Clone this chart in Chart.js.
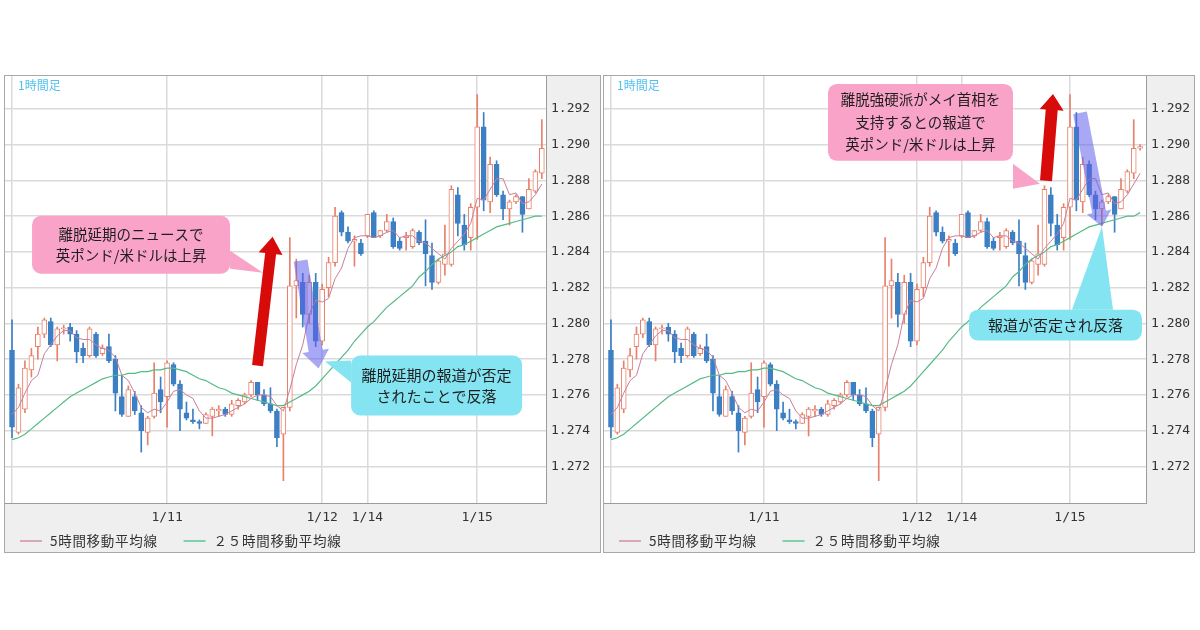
<!DOCTYPE html>
<html>
<head>
<meta charset="utf-8">
<script src="https://cdn.jsdelivr.net/npm/chart.js@4.4.1/dist/chart.umd.min.js"></script>
<style>
  html, body { margin: 0; padding: 0; background: #fff; width: 1200px; height: 630px; overflow: hidden; }
  canvas { position: absolute; }
  #left  { left: 4px;   top: 75px; width: 597px; height: 478px; }
  #right { left: 603px; top: 75px; width: 592px; height: 478px; }
</style>
</head>
<body>
<canvas id="left" width="597" height="478"></canvas>
<canvas id="right" width="592" height="478"></canvas>
<script>
// GBP/USD 1時間足, 1/10 0:00 - 1/15 11:00 (left chart ends one bar earlier)
const opens = [
  1.2785, 1.2739, 1.2752, 1.2774, 1.2787, 1.2794, 1.2801, 1.2788, 1.2797, 1.2798,
  1.2794, 1.2786, 1.2782, 1.2794, 1.2783, 1.2787, 1.2780, 1.2759, 1.2748, 1.2759,
  1.2750, 1.2739, 1.2748, 1.2763, 1.2759, 1.2777, 1.2766, 1.2750, 1.2746, 1.2745,
  1.2744, 1.2748, 1.2751, 1.2752, 1.2749, 1.2754, 1.2756, 1.2760, 1.2767, 1.2760,
  1.2755, 1.2751, 1.2738, 1.2753, 1.2821, 1.2823, 1.2805, 1.2823, 1.2790, 1.2820,
  1.2834, 1.2862, 1.2851, 1.2846, 1.2845, 1.2849, 1.2862, 1.2849, 1.2852, 1.2857,
  1.2846, 1.2848, 1.2843, 1.2851, 1.2846, 1.2838, 1.2823, 1.2833, 1.2833, 1.2872,
  1.2855, 1.2848, 1.2865, 1.2910, 1.2868, 1.2889, 1.2872, 1.2864, 1.2868, 1.2871,
  1.2864, 1.2874, 1.2884, 1.2898
];
const highs = [
  1.2802, 1.2766, 1.2779, 1.2786, 1.2798, 1.2803, 1.2803, 1.2798, 1.2799, 1.2800,
  1.2796, 1.2789, 1.2798, 1.2795, 1.2788, 1.2794, 1.2782, 1.2771, 1.2765, 1.2762,
  1.2754, 1.2748, 1.2778, 1.2770, 1.2779, 1.2778, 1.2768, 1.2756, 1.2752, 1.2746,
  1.2750, 1.2753, 1.2754, 1.2753, 1.2757, 1.2758, 1.2761, 1.2768, 1.2767, 1.2763,
  1.2764, 1.2752, 1.2753, 1.2848, 1.2836, 1.2828, 1.2827, 1.2828, 1.2822, 1.2837,
  1.2865, 1.2863, 1.2854, 1.2849, 1.2847, 1.2861, 1.2863, 1.2852, 1.2861, 1.2859,
  1.2848, 1.2851, 1.2853, 1.2852, 1.2858, 1.2845, 1.2836, 1.2855, 1.2877, 1.2876,
  1.2861, 1.2867, 1.2928, 1.2918, 1.2893, 1.2891, 1.2874, 1.2869, 1.2872, 1.2871,
  1.2881, 1.2886, 1.2914, 1.2900
];
const lows = [
  1.2736, 1.2738, 1.2750, 1.2770, 1.2780, 1.2792, 1.2787, 1.2779, 1.2794, 1.2790,
  1.2778, 1.2778, 1.2781, 1.2781, 1.2782, 1.2778, 1.2751, 1.2748, 1.2748, 1.2749,
  1.2728, 1.2732, 1.2747, 1.2750, 1.2742, 1.2765, 1.2740, 1.2746, 1.2744, 1.2741,
  1.2744, 1.2737, 1.2748, 1.2748, 1.2748, 1.2752, 1.2755, 1.2759, 1.2757, 1.2754,
  1.2750, 1.2731, 1.2712, 1.2751, 1.2803, 1.2798, 1.2800, 1.2787, 1.2788, 1.2815,
  1.2832, 1.2849, 1.2845, 1.2832, 1.2838, 1.2848, 1.2848, 1.2848, 1.2851, 1.2842,
  1.2841, 1.2841, 1.2842, 1.2844, 1.2821, 1.2819, 1.2822, 1.2827, 1.2832, 1.2849,
  1.2841, 1.2841, 1.2847, 1.2863, 1.2862, 1.2871, 1.2858, 1.2855, 1.2867, 1.2851,
  1.2864, 1.2873, 1.2881, 1.2897
];
const closes = [
  1.2742, 1.2764, 1.2775, 1.2782, 1.2794, 1.2802, 1.2788, 1.2797, 1.2797, 1.2794,
  1.2784, 1.2782, 1.2797, 1.2782, 1.2786, 1.2779, 1.2761, 1.2749, 1.2763, 1.2751,
  1.2740, 1.2747, 1.2761, 1.2756, 1.2778, 1.2766, 1.2752, 1.2747, 1.2745, 1.2744,
  1.2749, 1.2752, 1.2752, 1.2749, 1.2755, 1.2757, 1.2760, 1.2767, 1.2760, 1.2755,
  1.2751, 1.2736, 1.2753, 1.2821, 1.2824, 1.2805, 1.2823, 1.2790, 1.2819, 1.2834,
  1.2860, 1.2851, 1.2846, 1.2847, 1.2839, 1.2861, 1.2848, 1.2852, 1.2857, 1.2843,
  1.2842, 1.2849, 1.2852, 1.2845, 1.2839, 1.2823, 1.2835, 1.2839, 1.2875, 1.2856,
  1.2844, 1.2865, 1.2910, 1.2869, 1.2889, 1.2872, 1.2864, 1.2868, 1.2871, 1.2861,
  1.2875, 1.2885, 1.2898, 1.2899
];
const ma5 = [
  1.2749, 1.2753, 1.2761, 1.2768, 1.2771, 1.2783, 1.2788, 1.2793, 1.2796, 1.2796,
  1.2792, 1.2791, 1.2791, 1.2788, 1.2786, 1.2785, 1.2781, 1.2771, 1.2768, 1.2761,
  1.2753, 1.2750, 1.2752, 1.2751, 1.2756, 1.2762, 1.2763, 1.2760, 1.2758, 1.2751,
  1.2747, 1.2747, 1.2748, 1.2749, 1.2751, 1.2753, 1.2755, 1.2758, 1.2760, 1.2760,
  1.2759, 1.2754, 1.2751, 1.2763, 1.2777, 1.2788, 1.2805, 1.2813, 1.2812, 1.2814,
  1.2825, 1.2831, 1.2842, 1.2848, 1.2849, 1.2849, 1.2848, 1.2849, 1.2851, 1.2852,
  1.2848, 1.2849, 1.2849, 1.2846, 1.2845, 1.2842, 1.2839, 1.2836, 1.2842, 1.2846,
  1.2850, 1.2856, 1.2870, 1.2869, 1.2875, 1.2881, 1.2881, 1.2872, 1.2873, 1.2867,
  1.2868, 1.2872, 1.2878, 1.2884
];
const ma25 = [
  1.2735, 1.2736, 1.2738, 1.2741, 1.2744, 1.2747, 1.2750, 1.2753, 1.2756, 1.2759,
  1.2761, 1.2763, 1.2765, 1.2767, 1.2769, 1.2770, 1.2771, 1.2771, 1.2772, 1.2772,
  1.2773, 1.2773, 1.2774, 1.2774, 1.2775, 1.2775, 1.2774, 1.2773, 1.2771, 1.2769,
  1.2768, 1.2766, 1.2764, 1.2763, 1.2761, 1.2760, 1.2759, 1.2758, 1.2757, 1.2756,
  1.2755, 1.2754, 1.2754, 1.2756, 1.2758, 1.2760, 1.2762, 1.2765, 1.2769, 1.2773,
  1.2777, 1.2781, 1.2785, 1.2790, 1.2794, 1.2798, 1.2801, 1.2805, 1.2809, 1.2812,
  1.2815, 1.2818, 1.2821, 1.2826, 1.2829, 1.2833, 1.2836, 1.2838, 1.2840, 1.2843,
  1.2844, 1.2846, 1.2848, 1.2850, 1.2852, 1.2854, 1.2855, 1.2856, 1.2857, 1.2858,
  1.2859, 1.2860, 1.2860, 1.2862
];
const tickIndex = [0, 24, 48, 55, 72];
const tickLabels = ['', '1/11', '1/12', '1/14', '1/15'];
const yTicks = [1.272, 1.274, 1.276, 1.278, 1.280, 1.282, 1.284, 1.286, 1.288, 1.290, 1.292];

const UP = '#e8806a', DOWN = '#3b7fc4';
const JP = '"Noto Sans CJK JP", sans-serif';
const MONO = '"DejaVu Sans Mono", monospace';

// callouts and arrows, placed in (bar index, price) coordinates
const notesLeft = {
  boxes: [
    { x: [3.1, 33.75], y: [1.28602, 1.28278], fill: '#f9a3c9', size: 14.5, lh: 21,
      tail: [[33.75, 1.28407], [33.75, 1.28306], [38.85, 1.28284]],
      lines: ['離脱延期のニュースで', '英ポンド/米ドルは上昇'] },
    { x: [52.48, 78.95], y: [1.27820, 1.27485], fill: '#84e4f1', size: 15, lh: 21,
      tail: [[52.48, 1.27792], [52.48, 1.27669], [48.45, 1.27787]],
      lines: ['離脱延期の報道が否定', 'されたことで反落'] }
  ],
  arrows: [
    { from: [38.0, 1.27764], to: [40.33, 1.28485], w: 11, hw: 24, hl: 17, color: '#d80b0b' },
    { from: [44.66, 1.28351], to: [47.45, 1.27747], w: 14, hw: 27, hl: 18, color: 'rgba(96,96,235,0.55)' }
  ]
};
const notesRight = {
  boxes: [
    { x: [34.04, 63.06], y: [1.29340, 1.28910], fill: '#f9a3c9', size: 14.5, lh: 22.5,
      tail: [[63.06, 1.28894], [63.06, 1.28754], [67.29, 1.28782]],
      lines: ['離脱強硬派がメイ首相を', '支持するとの報道で', '英ポンド/米ドルは上昇'] },
    { x: [56.16, 83.29], y: [1.28077, 1.27904], fill: '#84e4f1', size: 15, lh: 21,
      tail: [[72.31, 1.28077], [78.75, 1.28077], [77.02, 1.28541]],
      lines: ['報道が否定され反落'] }
  ],
  arrows: [
    { from: [68.24, 1.28798], to: [69.33, 1.29284], w: 12, hw: 24, hl: 16, color: '#d80b0b' },
    { from: [73.57, 1.29178], to: [77.02, 1.28541], w: 14, hw: 25, hl: 15, color: 'rgba(96,96,235,0.55)' }
  ]
};

function drawArrow(ctx, x0, y0, x1, y1, a) {
  const ang = Math.atan2(y1 - y0, x1 - x0), len = Math.hypot(x1 - x0, y1 - y0);
  ctx.save();
  ctx.translate(x0, y0);
  ctx.rotate(ang);
  ctx.beginPath();
  ctx.moveTo(0, -a.w / 2);
  ctx.lineTo(len - a.hl, -a.w / 2);
  ctx.lineTo(len - a.hl, -a.hw / 2);
  ctx.lineTo(len, 0);
  ctx.lineTo(len - a.hl, a.hw / 2);
  ctx.lineTo(len - a.hl, a.w / 2);
  ctx.lineTo(0, a.w / 2);
  ctx.closePath();
  ctx.fillStyle = a.color;
  ctx.fill();
  ctx.restore();
}

function panelPlugin(notes) {
  return {
    id: 'panel',
    beforeDraw(chart) {
      const { ctx, chartArea: a } = chart;
      ctx.save();
      ctx.fillStyle = '#efefef';
      ctx.fillRect(0, 0, chart.width, chart.height);
      ctx.fillStyle = '#fff';
      ctx.fillRect(a.left, a.top, a.right - a.left, a.bottom - a.top);
      ctx.restore();
    },
    afterDraw(chart) {
      const { ctx, chartArea: a } = chart;
      const xs = chart.scales.x, ys = chart.scales.y;
      const P = (p) => [xs.getPixelForValue(p[0]), ys.getPixelForValue(p[1])];
      ctx.save();
      // frames
      ctx.strokeStyle = '#9c9c9c';
      ctx.lineWidth = 1;
      ctx.strokeRect(Math.round(a.left) + 0.5, Math.round(a.top) + 0.5,
        Math.round(a.right - a.left) - 1, Math.round(a.bottom - a.top));
      ctx.strokeStyle = '#a8a8a8';
      ctx.strokeRect(0.5, 0.5, chart.width - 1, chart.height - 1);
      // timeframe label
      ctx.fillStyle = '#52c2f0';
      ctx.font = '12px ' + JP;
      ctx.textBaseline = 'top';
      ctx.fillText('1時間足', a.left + 14, a.top + 4);
      // legend
      let lx = 16;
      const ly = a.bottom + 38;
      ctx.font = '13.5px ' + JP;
      ctx.letterSpacing = '0.7px';
      ctx.textBaseline = 'middle';
      chart.data.datasets.filter(d => d.legendColor).forEach(d => {
        ctx.strokeStyle = d.legendColor;
        ctx.lineWidth = 2;
        ctx.beginPath();
        ctx.moveTo(lx, ly);
        ctx.lineTo(lx + 22, ly);
        ctx.stroke();
        ctx.fillStyle = '#333';
        ctx.fillText(d.label, lx + 30, ly);
        lx += 30 + ctx.measureText(d.label).width + 26;
      });
      ctx.letterSpacing = '0px';
      // callouts
      notes.boxes.forEach(b => {
        const [x1, y1] = P([b.x[0], b.y[0]]);
        const [x2, y2] = P([b.x[1], b.y[1]]);
        ctx.fillStyle = b.fill;
        ctx.beginPath();
        ctx.roundRect(x1, y1, x2 - x1, y2 - y1, 9);
        ctx.fill();
        ctx.beginPath();
        b.tail.map(P).forEach((p, k) => k ? ctx.lineTo(p[0], p[1]) : ctx.moveTo(p[0], p[1]));
        ctx.closePath();
        ctx.fill();
        ctx.fillStyle = '#1e1e1e';
        ctx.font = b.size + 'px ' + JP;
        ctx.textAlign = 'center';
        ctx.textBaseline = 'middle';
        const cy = (y1 + y2) / 2 - (b.lines.length - 1) * b.lh / 2;
        b.lines.forEach((t, k) => ctx.fillText(t, (x1 + x2) / 2, cy + k * b.lh));
      });
      notes.arrows.forEach(ar => {
        const [x0, y0] = P(ar.from);
        const [x1, y1] = P(ar.to);
        drawArrow(ctx, x0, y0, x1, y1, ar);
      });
      ctx.restore();
    }
  };
}

function makeChart(id, n, xMin, xMax, axisW, notes) {
  const idx = closes.slice(0, n).map((c, i) => i);
  const up = i => closes[i] >= opens[i];
  const tickFont = { family: MONO, size: 13 };
  return new Chart(document.getElementById(id), {
    type: 'bar',
    data: {
      datasets: [
        { type: 'line', label: '5時間移動平均線', legendColor: '#d9a7b8',
          data: idx.map(i => ({ x: i, y: ma5[i] })),
          borderColor: '#c97f9b', borderWidth: 1, pointRadius: 0, order: 0 },
        { type: 'line', label: '２５時間移動平均線', legendColor: '#80d0ae',
          data: idx.map(i => ({ x: i, y: ma25[i] })),
          borderColor: '#55bb85', borderWidth: 1.2, pointRadius: 0, order: 0 },
        { label: 'body', data: idx.map(i => ({ x: i, y: [opens[i], closes[i]] })),
          backgroundColor: idx.map(i => up(i) ? '#fff' : DOWN),
          borderColor: idx.map(i => up(i) ? UP : DOWN),
          borderWidth: 1, borderSkipped: false, barThickness: 5, minBarLength: 1,
          grouped: false, order: 1 },
        { label: 'wick', data: idx.map(i => ({ x: i, y: [lows[i], highs[i]] })),
          backgroundColor: idx.map(i => up(i) ? UP : DOWN),
          borderWidth: 0, barThickness: 1, grouped: false, order: 2 }
      ]
    },
    options: {
      responsive: false,
      animation: false,
      events: [],
      layout: { padding: 0 },
      plugins: { legend: { display: false }, tooltip: { enabled: false } },
      scales: {
        x: {
          type: 'linear', min: xMin, max: xMax, offset: false,
          afterBuildTicks: ax => { ax.ticks = tickIndex.map(v => ({ value: v })); },
          afterFit: ax => { ax.height = 50; ax.paddingLeft = 0; ax.paddingRight = 0; },
          ticks: { autoSkip: false, maxRotation: 0, padding: 7, color: '#333', font: tickFont,
            callback: v => tickLabels[tickIndex.indexOf(v)] },
          grid: { color: '#dadada', lineWidth: 1.5, drawTicks: false, offset: false },
          border: { display: false }
        },
        y: {
          position: 'right', min: 1.26995, max: 1.2939,
          afterBuildTicks: ax => { ax.ticks = yTicks.map(v => ({ value: v })); },
          afterFit: ax => { ax.width = axisW; ax.paddingTop = 0; ax.paddingBottom = 0; },
          ticks: { padding: 4, color: '#333', font: tickFont, callback: v => v.toFixed(3) },
          grid: { color: '#dadada', lineWidth: 1.5, drawTicks: false },
          border: { display: false }
        }
      }
    },
    plugins: [panelPlugin(notes)]
  });
}

makeChart('left', 83, -1.24, 82.8, 54, notesLeft);
makeChart('right', 84, -1.25, 84.08, 48, notesRight);
</script>
</body>
</html>
